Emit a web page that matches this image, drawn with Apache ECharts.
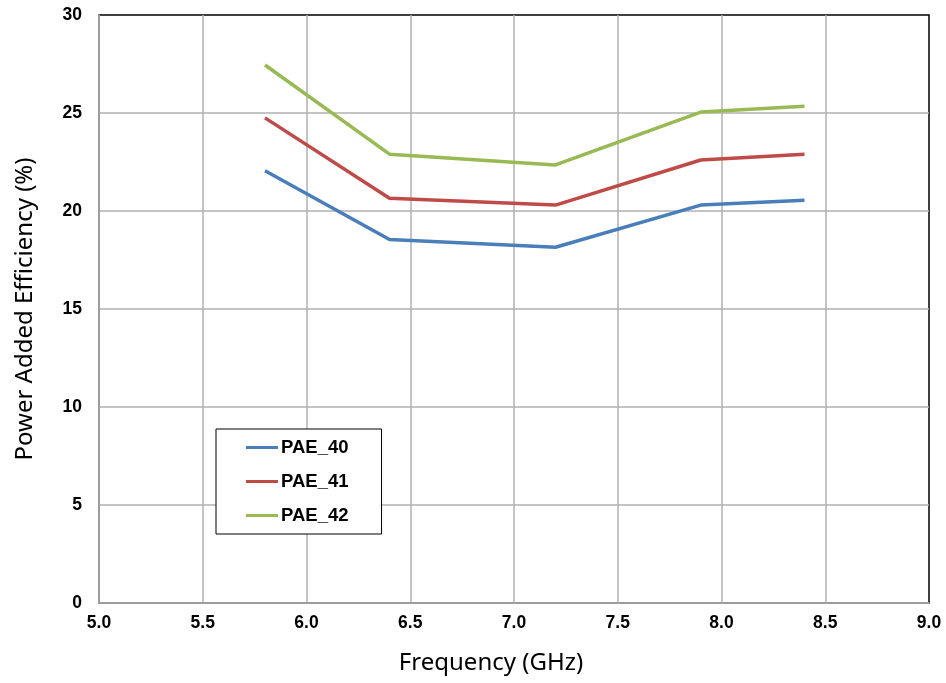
<!DOCTYPE html>
<html>
<head>
<meta charset="utf-8">
<script src="https://cdn.jsdelivr.net/npm/echarts@6/dist/echarts.min.js"></script>
<style>html,body{margin:0;padding:0;background:#fff}#c{width:946px;height:683px}</style>
</head>
<body>
<div id="c"></div>
<script>
const freq = [5.8, 6.4, 7.2, 7.9, 8.4];
const pae40 = [22.05, 18.55, 18.15, 20.3, 20.55];
const pae41 = [24.75, 20.65, 20.3, 22.6, 22.9];
const pae42 = [27.45, 22.9, 22.35, 25.05, 25.35];
const seriesNames = ['PAE_40', 'PAE_41', 'PAE_42'];
const colors = ['#4a7ebb', '#be4b48', '#98b954'];
const xTitle = 'Frequency (GHz)';
const yTitle = 'Power Added Efficiency (%)';

const chart = echarts.init(document.getElementById('c'));
const data = [pae40, pae41, pae42];
const labelFont = {fontFamily: '"Liberation Sans", Arial, sans-serif', fontWeight: 'bold', fontSize: 17.5, color: '#000'};
chart.setOption({
  animation: false,
  grid: {left: 99, right: 17, top: 15, bottom: 80, show: true, borderColor: '#000', borderWidth: 1.5, backgroundColor: '#fff', containLabel: false, outerBoundsMode: 'none'},
  legend: {
    orient: 'vertical', left: 216, top: 429,
    padding: [9, 33, 9, 30], itemGap: 15,
    itemWidth: 32, itemHeight: 3, icon: 'rect',
    borderColor: '#000', borderWidth: 1, backgroundColor: '#fff',
    textStyle: {fontFamily: '"Liberation Sans", Arial, sans-serif', fontWeight: 'bold', fontSize: 18.5, color: '#000', padding: [0,0,0,-2]},
    data: seriesNames
  },
  xAxis: {
    type: 'value', min: 5, max: 9, interval: 0.5,
    name: xTitle, nameLocation: 'middle', nameGap: 48,
    nameTextStyle: {fontFamily: '"Noto Sans", "Open Sans", sans-serif', fontSize: 24, color: '#000', padding: [0, 46, 0, 0]},
    axisLine: {show: true, lineStyle: {color: '#a0a0a0', width: 1.5}},
    axisTick: {show: false},
    axisLabel: Object.assign({margin: 11, formatter: v => v.toFixed(1)}, labelFont),
    splitLine: {show: true, showMaxLine: false, lineStyle: {color: '#b0b0b0', width: 1.5}}
  },
  yAxis: {
    type: 'value', min: 0, max: 30, interval: 5,
    name: yTitle, nameLocation: 'middle', nameGap: 62,
    nameTextStyle: {fontFamily: '"Noto Sans", "Open Sans", sans-serif', fontSize: 24, color: '#000'},
    axisLine: {show: true, lineStyle: {color: '#a0a0a0', width: 1.5}},
    axisTick: {show: false},
    axisLabel: Object.assign({margin: 17}, labelFont),
    splitLine: {show: true, showMaxLine: false, lineStyle: {color: '#b0b0b0', width: 1.5}}
  },
  series: seriesNames.map((n, i) => ({
    name: n, type: 'line', showSymbol: false, symbol: 'none',
    data: freq.map((f, j) => [f, data[i][j]]),
    lineStyle: {color: colors[i], width: 3.5},
    itemStyle: {color: colors[i]}
  }))
});
</script>
</body>
</html>
